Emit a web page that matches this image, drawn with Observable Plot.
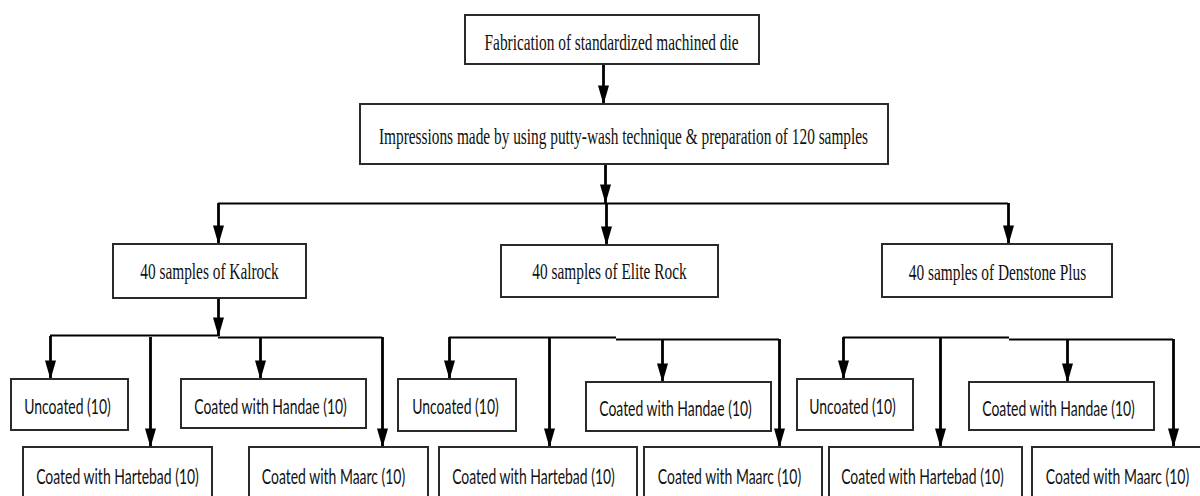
<!DOCTYPE html>
<html>
<head>
<meta charset="utf-8">
<script src="https://cdn.jsdelivr.net/npm/d3@7"></script>
<script src="https://cdn.jsdelivr.net/npm/@observablehq/plot@0.6"></script>
<style>
  html, body { margin: 0; padding: 0; background: #fff; overflow: hidden; }
  #chart svg { display: block; overflow: hidden; }
</style>
</head>
<body>
<div id="chart"></div>
<script>
// ---- Data (pixel coordinates of the diagram) ----
const boxNames = ["die","impressions","kalrock","elite","denstone",
  "k-unc","k-han","k-har","k-maa",
  "e-unc","e-han","e-har","e-maa",
  "d-unc","d-han","d-har","d-maa"];
const boxLeft   = [465, 360, 113, 501, 882,  11, 181,  23, 249, 398, 586, 439, 644, 797, 969, 829, 1032];
const boxRight  = [759, 888, 306, 718, 1112, 128, 366, 212, 428, 516, 771, 637, 822, 913, 1154, 1022, 1210];
const boxTop    = [15, 104, 244, 245, 244, 379, 379, 447, 447, 379, 382, 447, 447, 379, 382, 447, 447];
const boxBottom = [64, 164, 298, 297, 297, 430, 428, 510, 510, 431, 431, 510, 510, 430, 430, 510, 510];

const labels = [
  "Fabrication of standardized machined die",
  "Impressions made by using putty-wash technique & preparation of 120 samples",
  "40 samples of Kalrock",
  "40 samples of Elite Rock",
  "40 samples of Denstone Plus",
  "Uncoated (10)", "Coated with Handae (10)", "Coated with Hartebad (10)", "Coated with Maarc (10)",
  "Uncoated (10)", "Coated with Handae (10)", "Coated with Hartebad (10)", "Coated with Maarc (10)",
  "Uncoated (10)", "Coated with Handae (10)", "Coated with Hartebad (10)", "Coated with Maarc (10)"
];
const labelX = [611, 623, 209, 609, 997,  67, 270, 117, 333,  455, 675, 533, 729,  852, 1058, 922, 1117];
const labelY = [42, 136, 271, 271, 272, 407, 407, 477, 477, 407, 409, 477, 477, 407, 409, 477, 477];
const labelSerif = [true, true, true, true, true, false, false, false, false, false, false, false, false, false, false, false, false];

// vertical connectors (all end with an arrowhead at the bottom)
const connX      = [603, 605, 218, 606, 1008, 218,  50, 150, 260, 382, 449, 549, 662, 779, 843, 940, 1067, 1173];
const connTop    = [ 64, 164, 203, 203,  203, 298, 336, 337, 337, 337, 337, 337, 339, 339, 337, 337,  339,  339];
const connBottom = [104, 203, 244, 245,  244, 336, 379, 447, 379, 447, 379, 447, 382, 447, 379, 447,  382,  447];

// horizontal distribution lines
const busLeft  = [218,  50, 218, 449, 616, 843, 1009];
const busRight = [1008, 218, 382, 616, 779, 1009, 1173];
const busY     = [203, 335, 337, 337, 339, 337, 339];

// ---- Build tables ----
const boxes = boxNames.map((n, i) => ({name: n, x1: boxLeft[i], x2: boxRight[i], y1: boxTop[i], y2: boxBottom[i]}));
const texts = labels.map((t, i) => ({text: t, x: labelX[i], y: labelY[i], serif: labelSerif[i]}));
const conns = connX.map((x, i) => ({x, y1: connTop[i], y2: connBottom[i]}));
const buses = busY.map((y, i) => ({y, x1: busLeft[i], x2: busRight[i]}));

// filled, elongated arrowhead with its tip at the anchor point
const arrowHead = {
  draw(context) {
    context.moveTo(-5.5, -19);
    context.lineTo(5.5, -19);
    context.lineTo(0, 0);
    context.closePath();
  }
};

const W = 1200, H = 496;
const plot = Plot.plot({
  width: W,
  height: H,
  margin: 0,
  x: {domain: [0, W], range: [0, W], axis: null},
  y: {domain: [0, H], range: [0, H], axis: null},
  style: {background: "#fff"},
  marks: [
    Plot.ruleY(buses, {y: "y", x1: "x1", x2: "x2", stroke: "#000", strokeWidth: 2}),
    Plot.ruleX(conns, {x: "x", y1: "y1", y2: "y2", stroke: "#000", strokeWidth: 2.8}),
    Plot.dot(conns, {x: "x", y: "y2", symbol: arrowHead, fill: "#000", stroke: "none", r: 5}),
    Plot.rect(boxes, {x1: "x1", x2: "x2", y1: "y1", y2: "y2", fill: "#fff", stroke: "#2a2a2a", strokeWidth: 2}),
    Plot.text(texts.filter(d => d.serif), {
      x: "x", y: "y", text: "text", fill: "#111",
      fontFamily: "Liberation Serif", fontSize: 24, className: "serif-label"
    }),
    Plot.text(texts.filter(d => !d.serif), {
      x: "x", y: "y", text: "text", fill: "#111",
      fontFamily: "Lato", fontSize: 21, className: "sans-label"
    })
  ]
});
document.getElementById("chart").appendChild(plot);

// condense the glyphs horizontally, as in the reference (scale about each text's anchor)
function condense(selector, factor) {
  d3.select(plot).selectAll(selector + " text").each(function() {
    const t = this.getAttribute("transform");
    if (t) {
      this.setAttribute("transform", t + ` scale(${factor},1)`);
    } else {
      const x = +this.getAttribute("x") || 0, y = +this.getAttribute("y") || 0;
      this.removeAttribute("x"); this.removeAttribute("y");
      this.setAttribute("transform", `translate(${x},${y}) scale(${factor},1)`);
    }
  });
}
condense(".serif-label", 0.64);
condense(".sans-label", 0.665);
</script>
</body>
</html>
